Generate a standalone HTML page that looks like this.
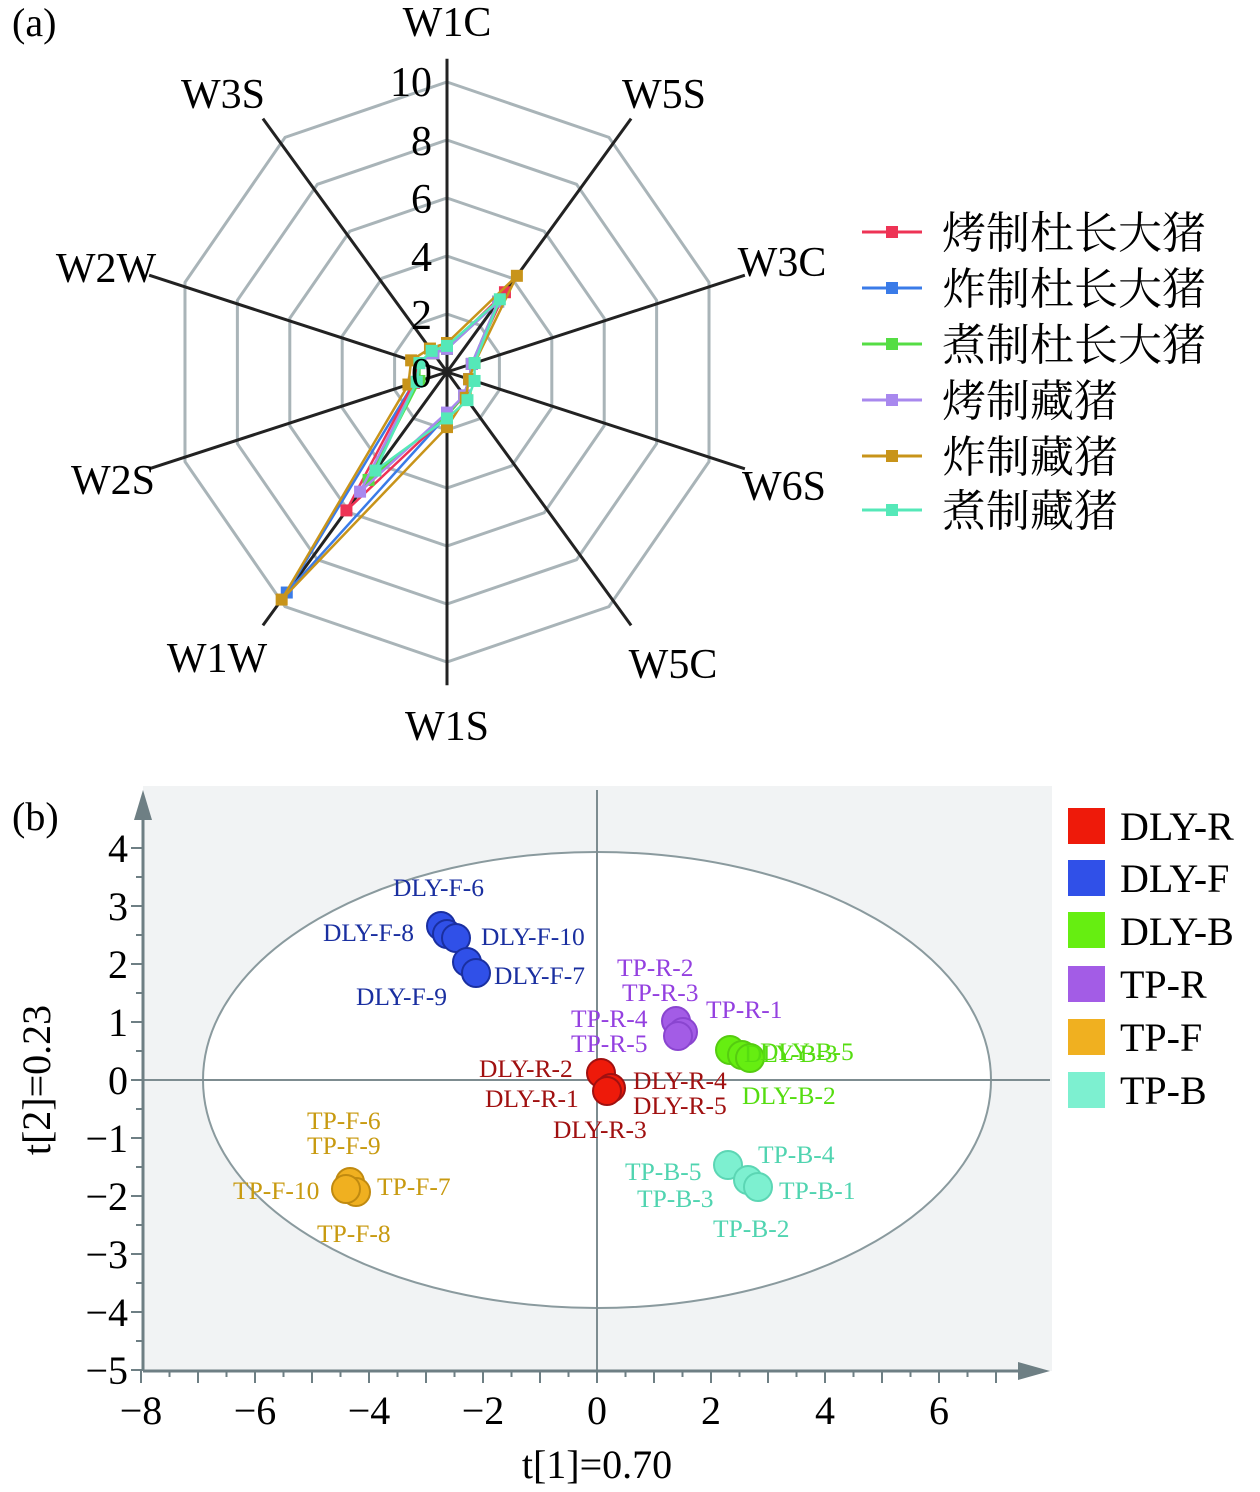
<!DOCTYPE html>
<html><head><meta charset="utf-8"><style>
body{margin:0;background:#fff}
svg{display:block;font-family:"Liberation Serif","Noto Serif CJK SC",serif}
</style></head><body>
<svg id="s" width="1260" height="1492" viewBox="0 0 1260 1492" xmlns="http://www.w3.org/2000/svg">
<rect width="1260" height="1492" fill="#fff"/>
<text x="12" y="36" font-size="40">(a)</text>
<g id="radar"></g>
<g font-size="42">
<text x="447" y="36" text-anchor="middle">W1C</text>
<text x="664" y="108" text-anchor="middle">W5S</text>
<text x="782" y="276" text-anchor="middle">W3C</text>
<text x="784" y="500" text-anchor="middle">W6S</text>
<text x="673" y="678" text-anchor="middle">W5C</text>
<text x="447" y="740" text-anchor="middle">W1S</text>
<text x="217" y="672" text-anchor="middle">W1W</text>
<text x="113" y="494" text-anchor="middle">W2S</text>
<text x="106" y="282" text-anchor="middle">W2W</text>
<text x="223" y="108" text-anchor="middle">W3S</text>
</g>
<g font-size="42" text-anchor="end">
<text x="432" y="96">10</text><text x="432" y="155">8</text><text x="432" y="213">6</text>
<text x="432" y="271">4</text><text x="432" y="329">2</text><text x="432" y="387">0</text>
</g>
<g id="leg" font-size="44"></g>

<text x="12" y="830" font-size="40">(b)</text>
<rect x="143" y="786" width="909" height="585" fill="#f1f3f4"/>
<ellipse cx="597" cy="1080" rx="394" ry="228" fill="#fff" stroke="#8a9a9e" stroke-width="2"/>
<line x1="143" y1="1080" x2="1050" y2="1080" stroke="#7d8c90" stroke-width="2"/>
<line x1="597" y1="790" x2="597" y2="1371" stroke="#7d8c90" stroke-width="2"/>
<line x1="143" y1="1371" x2="143" y2="800" stroke="#6e7f84" stroke-width="3"/>
<polygon points="143,790 134,820 152,820" fill="#6e7f84"/>
<line x1="143" y1="1371" x2="1030" y2="1371" stroke="#6e7f84" stroke-width="3"/>
<polygon points="1050,1371 1018,1362 1018,1380" fill="#6e7f84"/>
<g id="ticks" stroke="#6e7f84" stroke-width="2"></g>
<g font-size="40" text-anchor="end">
<text x="128" y="862">4</text><text x="128" y="920">3</text><text x="128" y="978">2</text>
<text x="128" y="1036">1</text><text x="128" y="1094">0</text><text x="128" y="1152">−1</text>
<text x="128" y="1210">−2</text><text x="128" y="1268">−3</text><text x="128" y="1326">−4</text>
<text x="128" y="1384">−5</text>
</g>
<g font-size="40" text-anchor="middle">
<text x="141" y="1424">−8</text><text x="255" y="1424">−6</text><text x="369" y="1424">−4</text>
<text x="483" y="1424">−2</text><text x="597" y="1424">0</text><text x="711" y="1424">2</text>
<text x="825" y="1424">4</text><text x="939" y="1424">6</text>
</g>
<text x="597" y="1478" font-size="40" text-anchor="middle">t[1]=0.70</text>
<text transform="translate(50,1080) rotate(-90)" font-size="40" text-anchor="middle">t[2]=0.23</text>

<g stroke-width="2">
<g fill="#3050e8" stroke="#1a2fa0">
<circle cx="441" cy="926" r="14"/><circle cx="447" cy="934" r="14"/><circle cx="456" cy="938" r="14"/><circle cx="467" cy="962" r="14"/><circle cx="476" cy="973" r="14"/></g>
<g fill="#a35ce6" stroke="#8a45d0">
<circle cx="676" cy="1021" r="14"/><circle cx="683" cy="1032" r="14"/><circle cx="678" cy="1036" r="14"/></g>
<g fill="#66ee11" stroke="#55cc10">
<circle cx="730" cy="1050" r="14"/><circle cx="742" cy="1055" r="14"/><circle cx="750" cy="1058" r="14"/></g>
<g fill="#ee1a0a" stroke="#a01010">
<circle cx="601" cy="1073" r="14"/><circle cx="611" cy="1088" r="14"/><circle cx="607" cy="1091" r="14"/></g>
<g fill="#7df0d0" stroke="#5cd6b4">
<circle cx="728" cy="1165" r="14"/><circle cx="748" cy="1180" r="14"/><circle cx="758" cy="1187" r="14"/></g>
<g fill="#f0b020" stroke="#c08a10">
<circle cx="350" cy="1182" r="14"/><circle cx="356" cy="1192" r="14"/><circle cx="346" cy="1189" r="14"/></g>
</g>
<g font-size="25.5">
<g fill="#1a2fa0">
<text x="393" y="896">DLY-F-6</text><text x="323" y="941">DLY-F-8</text><text x="481" y="945">DLY-F-10</text>
<text x="494" y="984">DLY-F-7</text><text x="356" y="1005">DLY-F-9</text></g>
<g fill="#9440e0">
<text x="617" y="976">TP-R-2</text><text x="622" y="1001">TP-R-3</text><text x="706" y="1018">TP-R-1</text>
<text x="571" y="1027">TP-R-4</text><text x="571" y="1052">TP-R-5</text></g>
<g fill="#55dd10">
<text x="744" y="1062">DLY-B-3</text><text x="760" y="1060">DLY-B-5</text><text x="742" y="1104">DLY-B-2</text></g>
<g fill="#a01010">
<text x="479" y="1077">DLY-R-2</text><text x="633" y="1089">DLY-R-4</text><text x="485" y="1107">DLY-R-1</text>
<text x="633" y="1114">DLY-R-5</text><text x="553" y="1138">DLY-R-3</text></g>
<g fill="#50d4b0">
<text x="758" y="1163">TP-B-4</text><text x="625" y="1180">TP-B-5</text><text x="779" y="1199">TP-B-1</text>
<text x="637" y="1207">TP-B-3</text><text x="713" y="1237">TP-B-2</text></g>
<g fill="#c89a10">
<text x="307" y="1129">TP-F-6</text><text x="307" y="1154">TP-F-9</text><text x="377" y="1195">TP-F-7</text>
<text x="233" y="1199">TP-F-10</text><text x="317" y="1242">TP-F-8</text></g>
</g>
<g font-size="40">
<rect x="1068" y="808" width="37" height="36" fill="#ee1a0a"/><text x="1120" y="840">DLY-R</text>
<rect x="1068" y="860" width="37" height="36" fill="#3050e8"/><text x="1120" y="892">DLY-F</text>
<rect x="1068" y="912" width="37" height="36" fill="#66ee11"/><text x="1120" y="945">DLY-B</text>
<rect x="1068" y="966" width="37" height="36" fill="#a35ce6"/><text x="1120" y="998">TP-R</text>
<rect x="1068" y="1019" width="37" height="36" fill="#f0b020"/><text x="1120" y="1051">TP-F</text>
<rect x="1068" y="1072" width="37" height="36" fill="#7df0d0"/><text x="1120" y="1104">TP-B</text>
</g>
</svg>
<script>
(function(){
var NS="http://www.w3.org/2000/svg",cx=447,cy=372,u=29;
var R=document.getElementById("radar");
function el(t,a,p){var e=document.createElementNS(NS,t);for(var k in a)e.setAttribute(k,a[k]);(p||R).appendChild(e);return e;}
function pt(i,v,sx){var a=i*36*Math.PI/180;return [cx+Math.sin(a)*v*u*(sx||1),cy-Math.cos(a)*v*u];}
for(var r=2;r<=10;r+=2){var p=[];for(var i=0;i<10;i++)p.push(pt(i,r,0.95).join(","));
el("polygon",{points:p.join(" "),fill:"none",stroke:"#a9b4b8","stroke-width":3});}
for(var i=0;i<10;i++){var e=pt(i,10.8);el("line",{x1:cx,y1:cy,x2:e[0],y2:e[1],stroke:"#222","stroke-width":3});}
var S=[
["#3a7be8",[0.8,3,0.9,0.8,1,1.5,9.4,1.2,1,0.8]],
["#ee3355",[0.8,3.4,0.9,0.8,1,1.5,5.9,1.2,1,0.8]],
["#55dd44",[0.8,3,0.9,0.8,1,1.5,4.6,1,1,0.8]],
["#a888ee",[0.8,3,0.9,0.8,1,1.4,5.1,1.1,1,0.8]],
["#c8941a",[1,4.1,1,0.8,1.1,1.9,9.7,1.4,1.3,1]],
["#55e8b8",[0.9,3.1,1,1,1.2,1.6,4.2,1.1,1,0.9]]];
var legCol=["#ee3355","#3a7be8","#55dd44","#a888ee","#c8941a","#55e8b8"];
S.forEach(function(s){var p=s[1].map(function(v,i){return pt(i,v).join(",");});
el("polygon",{points:p.join(" "),fill:"none",stroke:s[0],"stroke-width":2.5});
s[1].forEach(function(v,i){var q=pt(i,v);el("rect",{x:q[0]-6,y:q[1]-6,width:12,height:12,fill:s[0]});});});
var L=document.getElementById("leg");
var names=["烤制杜长大猪","炸制杜长大猪","煮制杜长大猪","烤制藏猪","炸制藏猪","煮制藏猪"];
var ys=[232,288,344,400,456,510];
names.forEach(function(n,i){var y=ys[i];
el("line",{x1:862,y1:y,x2:922,y2:y,stroke:legCol[i],"stroke-width":3},L);
el("rect",{x:886,y:y-6,width:12,height:12,fill:legCol[i]},L);
var t=el("text",{x:942,y:y+16},L);t.textContent=n;});
var T=document.getElementById("ticks");
for(var v=-5;v<=4.5;v+=0.5){var y=1080-v*58;el("line",{x1:143,y1:y,x2:(v%1==0)?131:136,y2:y},T);}
for(var v=-8;v<=7.5;v+=0.5){var x=597+v*57;el("line",{x1:x,y1:1371,x2:x,y2:(v%1==0)?1383:1377},T);}
})();
</script>
</body></html>
